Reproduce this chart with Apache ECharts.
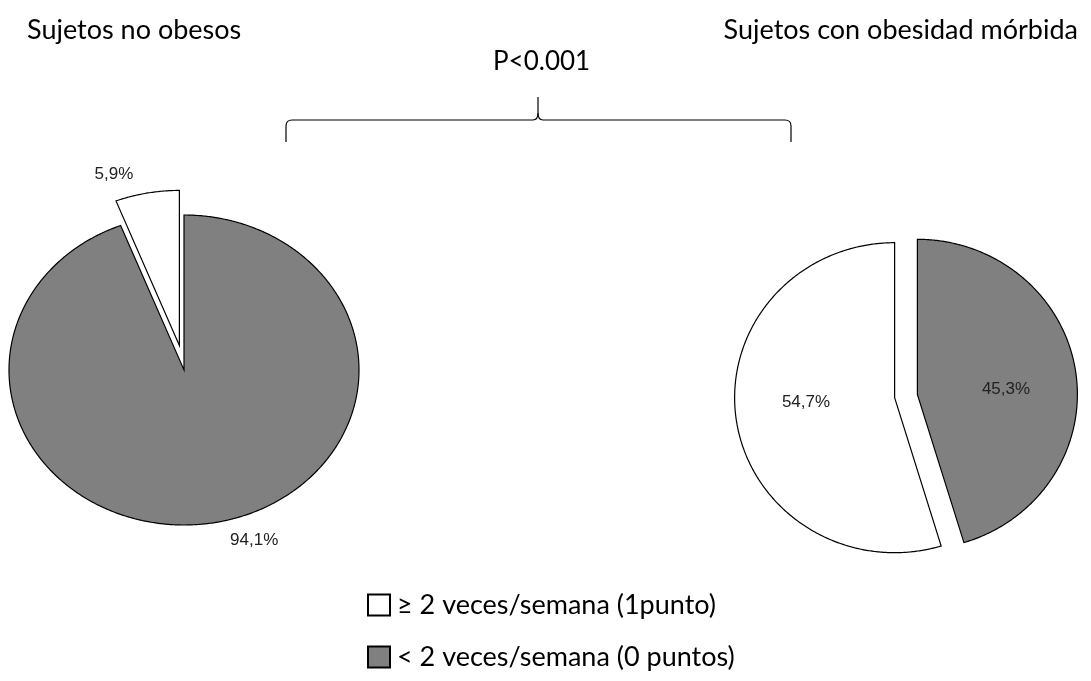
<!DOCTYPE html>
<html>
<head>
<meta charset="utf-8">
<script src="https://cdn.jsdelivr.net/npm/echarts@6/dist/echarts.min.js"></script>
<style>
  html, body { margin: 0; padding: 0; background: #fff; }
  #chart { width: 1091px; height: 681px; }
</style>
</head>
<body>
<div id="chart"></div>
<script>
// Categories (legend) and groups (one pie each)
const categorias = ['≥ 2 veces/semana (1punto)', '< 2 veces/semana (0 puntos)'];
const grupos = ['Sujetos no obesos', 'Sujetos con obesidad mórbida'];

// Percentages per group, in the order of `grupos`
const porcentajeAlto = [5.9, 54.7];   // ≥ 2 veces/semana
const porcentajeBajo = [94.1, 45.3];  // < 2 veces/semana

const textoP = 'P<0.001';

// Pie layout: centre, radii (elliptical), explode distance per category, label placement
const layoutPies = [
  { cx: 184, cy: 370, rx: 175, ry: 155, explode: [25, 0], inside: false },
  { cx: 906, cy: 396, rx: 160, ry: 155, explode: [11.5, 11.5], inside: true }
];
const coloresCategoria = ['#ffffff', '#808080'];

const fmt = v => v.toFixed(1).replace('.', ',') + '%';

// Slice angles (clockwise from 12 o'clock): "< 2" first, then "≥ 2"
function angulos(cat, p) {
  const bajo = porcentajeBajo[p], alto = porcentajeAlto[p];
  const total = bajo + alto;
  if (cat === 1) return [0, bajo / total * 2 * Math.PI];
  return [bajo / total * 2 * Math.PI, 2 * Math.PI];
}

function renderSlice(cat) {
  return function (params, api) {
    const p = params.dataIndex;
    const L = layoutPies[p];
    const [a0, a1] = angulos(cat, p);
    const mid = (a0 + a1) / 2;
    const d = L.explode[cat];
    const ox = L.cx + d * Math.sin(mid);
    const oy = L.cy - d * Math.cos(mid);
    const pts = [[ox, oy]];
    const steps = Math.max(2, Math.ceil((a1 - a0) / (Math.PI / 360)));
    for (let i = 0; i <= steps; i++) {
      const a = a0 + (a1 - a0) * i / steps;
      pts.push([ox + L.rx * Math.sin(a), oy - L.ry * Math.cos(a)]);
    }
    const valor = api.value(1);
    const estiloEtiqueta = {
      text: fmt(valor), verticalAlign: 'middle',
      fontFamily: '"Liberation Sans", Arial, sans-serif', fontSize: 17, fill: '#222'
    };
    let label;
    if (L.inside) {
      label = {
        type: 'text', z2: 10,
        style: Object.assign({
          x: ox + 0.56 * L.rx * Math.sin(mid),
          y: oy - 0.22 * L.ry * Math.cos(mid),
          align: 'center'
        }, estiloEtiqueta)
      };
    } else {
      const s = Math.sin(mid);
      const lx = ox + 1.12 * L.rx * s;
      const ly = oy - 1.12 * L.ry * Math.cos(mid);
      label = {
        type: 'text', z2: 10,
        style: Object.assign({
          x: lx + (s >= 0 ? 10 : -10), y: ly,
          align: s >= 0 ? 'left' : 'right'
        }, estiloEtiqueta)
      };
    }
    return {
      type: 'group',
      children: [
        {
          type: 'polygon',
          shape: { points: pts },
          style: { fill: coloresCategoria[cat], stroke: '#000', lineWidth: 1.2 }
        },
        label
      ]
    };
  };
}

// Curly brace joining both groups, built from straight segments and rounded corners
const trazo = { stroke: '#000', lineWidth: 1.2, fill: null };
function seg(x1, y1, x2, y2) {
  return { type: 'line', shape: { x1, y1, x2, y2 }, style: trazo };
}
function curva(x1, y1, cpx1, cpy1, x2, y2) {
  return { type: 'bezierCurve', shape: { x1, y1, cpx1, cpy1, x2, y2 }, style: trazo };
}
const llave = {
  type: 'group',
  children: [
    seg(286, 142, 286, 126),
    curva(286, 126, 286, 120, 292, 120),
    seg(292, 120, 533, 120),
    curva(533, 120, 538, 120, 538, 113),
    seg(538, 113, 538, 97),
    curva(538, 113, 538, 120, 543, 120),
    seg(543, 120, 785, 120),
    curva(785, 120, 791, 120, 791, 126),
    seg(791, 126, 791, 142)
  ]
};

const chart = echarts.init(document.getElementById('chart'), null, { renderer: 'canvas' });

const fuente = 'Lato, "Open Sans", sans-serif';

chart.setOption({
  animation: false,
  backgroundColor: '#ffffff',
  title: [
    { text: grupos[0], left: 22, top: 12, textStyle: { fontFamily: fuente, fontSize: 27, fontWeight: 'normal', color: '#000' } },
    { text: grupos[1], right: 8, top: 12, textStyle: { fontFamily: fuente, fontSize: 27, fontWeight: 'normal', color: '#000' } }
  ],
  legend: {
    orient: 'vertical',
    left: 367,
    top: 590,
    padding: 0,
    height: 90,
    itemWidth: 22,
    itemHeight: 21,
    itemGap: 22,
    icon: 'rect',
    selectedMode: false,
    textStyle: { fontFamily: fuente, fontSize: 27, color: '#000', lineHeight: 30, padding: [0, 0, 0, 2] },
    data: categorias.map((c, i) => ({
      name: c,
      itemStyle: { color: coloresCategoria[i], borderColor: '#000', borderWidth: 2 }
    }))
  },
  graphic: [
    {
      type: 'text',
      left: 493, top: 49,
      style: { text: textoP, fontFamily: fuente, fontSize: 26, fill: '#000' }
    },
    llave
  ],
  series: categorias.map((c, cat) => ({
    name: c,
    type: 'custom',
    coordinateSystem: 'none',
    itemStyle: { color: coloresCategoria[cat], borderColor: '#000' },
    renderItem: renderSlice(cat),
    data: (cat === 0 ? porcentajeAlto : porcentajeBajo).map((v, i) => [i, v])
  }))
});
</script>
</body>
</html>
